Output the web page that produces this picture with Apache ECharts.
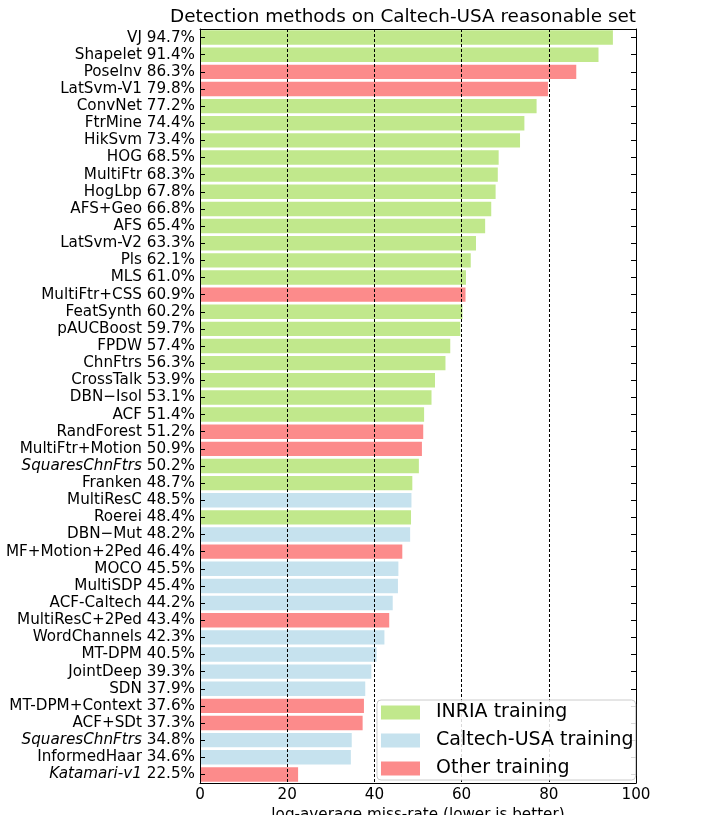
<!DOCTYPE html>
<html>
<head>
<meta charset="utf-8">
<script src="https://cdn.jsdelivr.net/npm/echarts@6/dist/echarts.min.js"></script>
<style>html,body{margin:0;padding:0;background:#fff}#c{width:723px;height:815px}</style>
</head>
<body>
<div id="c"></div>
<script>
const methods = ['VJ','Shapelet','PoseInv','LatSvm-V1','ConvNet','FtrMine','HikSvm','HOG','MultiFtr','HogLbp',
  'AFS+Geo','AFS','LatSvm-V2','Pls','MLS','MultiFtr+CSS','FeatSynth','pAUCBoost','FPDW','ChnFtrs',
  'CrossTalk','DBN\u2212Isol','ACF','RandForest','MultiFtr+Motion','SquaresChnFtrs','Franken','MultiResC','Roerei','DBN\u2212Mut',
  'MF+Motion+2Ped','MOCO','MultiSDP','ACF-Caltech','MultiResC+2Ped','WordChannels','MT-DPM','JointDeep','SDN','MT-DPM+Context',
  'ACF+SDt','SquaresChnFtrs','InformedHaar','Katamari-v1'];
const missRates = [94.7,91.4,86.3,79.8,77.2,74.4,73.4,68.5,68.3,67.8,
  66.8,65.4,63.3,62.1,61.0,60.9,60.2,59.7,57.4,56.3,
  53.9,53.1,51.4,51.2,50.9,50.2,48.7,48.5,48.4,48.2,
  46.4,45.5,45.4,44.2,43.4,42.3,40.5,39.3,37.9,37.6,
  37.3,34.8,34.6,22.5];
const training = ['I','I','O','O','I','I','I','I','I','I',
  'I','I','I','I','I','O','I','I','I','I',
  'I','I','I','O','O','I','I','C','I','C',
  'O','C','C','C','O','C','C','C','C','O',
  'O','C','C','O'];
const italicMethods = [25, 41, 43];
const groups = [
  {key:'I', name:'INRIA training', color:'#c1e88c'},
  {key:'C', name:'Caltech-USA training', color:'#c6e2ee'},
  {key:'O', name:'Other training', color:'#fc8b8b'}
];
const xTicks = [0,20,40,60,80,100];

const FONT = 'DejaVu Sans';
const FS = 15.2;
const labels = methods.map((m,i)=> m + ' ' + missRates[i].toFixed(1) + '%');

const chart = echarts.init(document.getElementById('c'), null, {renderer:'canvas'});
const series = groups.map(g => ({
  name: g.name,
  type: 'bar',
  stack: 'all',
  barCategoryGap: '16%',
  itemStyle: {color: g.color},
  data: missRates.map((v,i)=> training[i]===g.key ? v : '-')
}));

const option = {
  animation: false,
  backgroundColor: '#fff',
  textStyle: {fontFamily: FONT},
  title: {
    text: 'Detection methods on Caltech-USA reasonable set',
    left: 170, top: 8, padding: 0,
    textStyle: {fontFamily: FONT, fontSize: 18.4, fontWeight: 'normal', color: '#000'}
  },
  legend: {
    orient: 'vertical',
    left: 377, top: 700,
    padding: [3, 2, 2, 4],
    itemWidth: 39, itemHeight: 14, itemGap: 9,
    icon: 'rect',
    borderColor: '#cccccc', borderWidth: 1, borderRadius: 4,
    backgroundColor: 'rgba(255,255,255,0.85)',
    textStyle: {fontFamily: FONT, fontSize: 19, color: '#000', lineHeight: 19, padding: [0, 0, 0, 11]},
    data: groups.map(g=>g.name)
  },
  grid: {left: 200, right: 87, top: 29, bottom: 32, containLabel: false, outerBoundsMode: 'none'},
  xAxis: [{
    type: 'value', min: xTicks[0], max: xTicks[xTicks.length-1], interval: 20, position: 'bottom', z: 3,
    axisLine: {show: true, lineStyle: {color: '#000', width: 1}},
    axisTick: {show: false},
    axisLabel: {fontFamily: FONT, fontSize: FS, color: '#000', margin: 5},
    splitLine: {show: true, lineStyle: {color: '#000', width: 1, type: [3, 2]}},
    name: 'log-average miss-rate (lower is better)',
    nameLocation: 'middle', nameGap: 22,
    nameTextStyle: {fontFamily: FONT, fontSize: 15.2, color: '#000'}
  }, {
    type: 'value', min: 0, max: 100, interval: 20, position: 'top', z: 3,
    axisLine: {show: true, onZero: false, lineStyle: {color: '#000', width: 1}},
    axisTick: {show: false}, axisLabel: {show: false}, splitLine: {show: false}
  }],
  yAxis: [{
    type: 'category', inverse: true, data: labels, position: 'left', z: 3,
    axisLine: {show: true, onZero: false, lineStyle: {color: '#000', width: 1}},
    axisTick: {show: true, inside: true, length: 5, alignWithLabel: true, lineStyle: {color: '#000'}},
    axisLabel: {
      margin: 5, interval: 0, color: '#000', fontFamily: FONT, fontSize: FS,
      formatter: (val, idx) => {
        if (italicMethods.indexOf(idx) >= 0) {
          return '{it|' + methods[idx] + '} {n|' + missRates[idx].toFixed(1) + '%}';
        }
        return '{n|' + val + '}';
      },
      rich: {
        it: {fontFamily: FONT, fontSize: FS, fontStyle: 'italic', color: '#000'},
        n: {fontFamily: FONT, fontSize: FS, color: '#000'}
      }
    }
  }, {
    type: 'category', inverse: true, data: labels, position: 'right', z: 3,
    axisLine: {show: true, onZero: false, lineStyle: {color: '#000', width: 1}},
    axisTick: {show: true, inside: true, length: 5, alignWithLabel: true, lineStyle: {color: '#000'}},
    axisLabel: {show: false}
  }],
  series: series
};
chart.setOption(option);
</script>
</body>
</html>
